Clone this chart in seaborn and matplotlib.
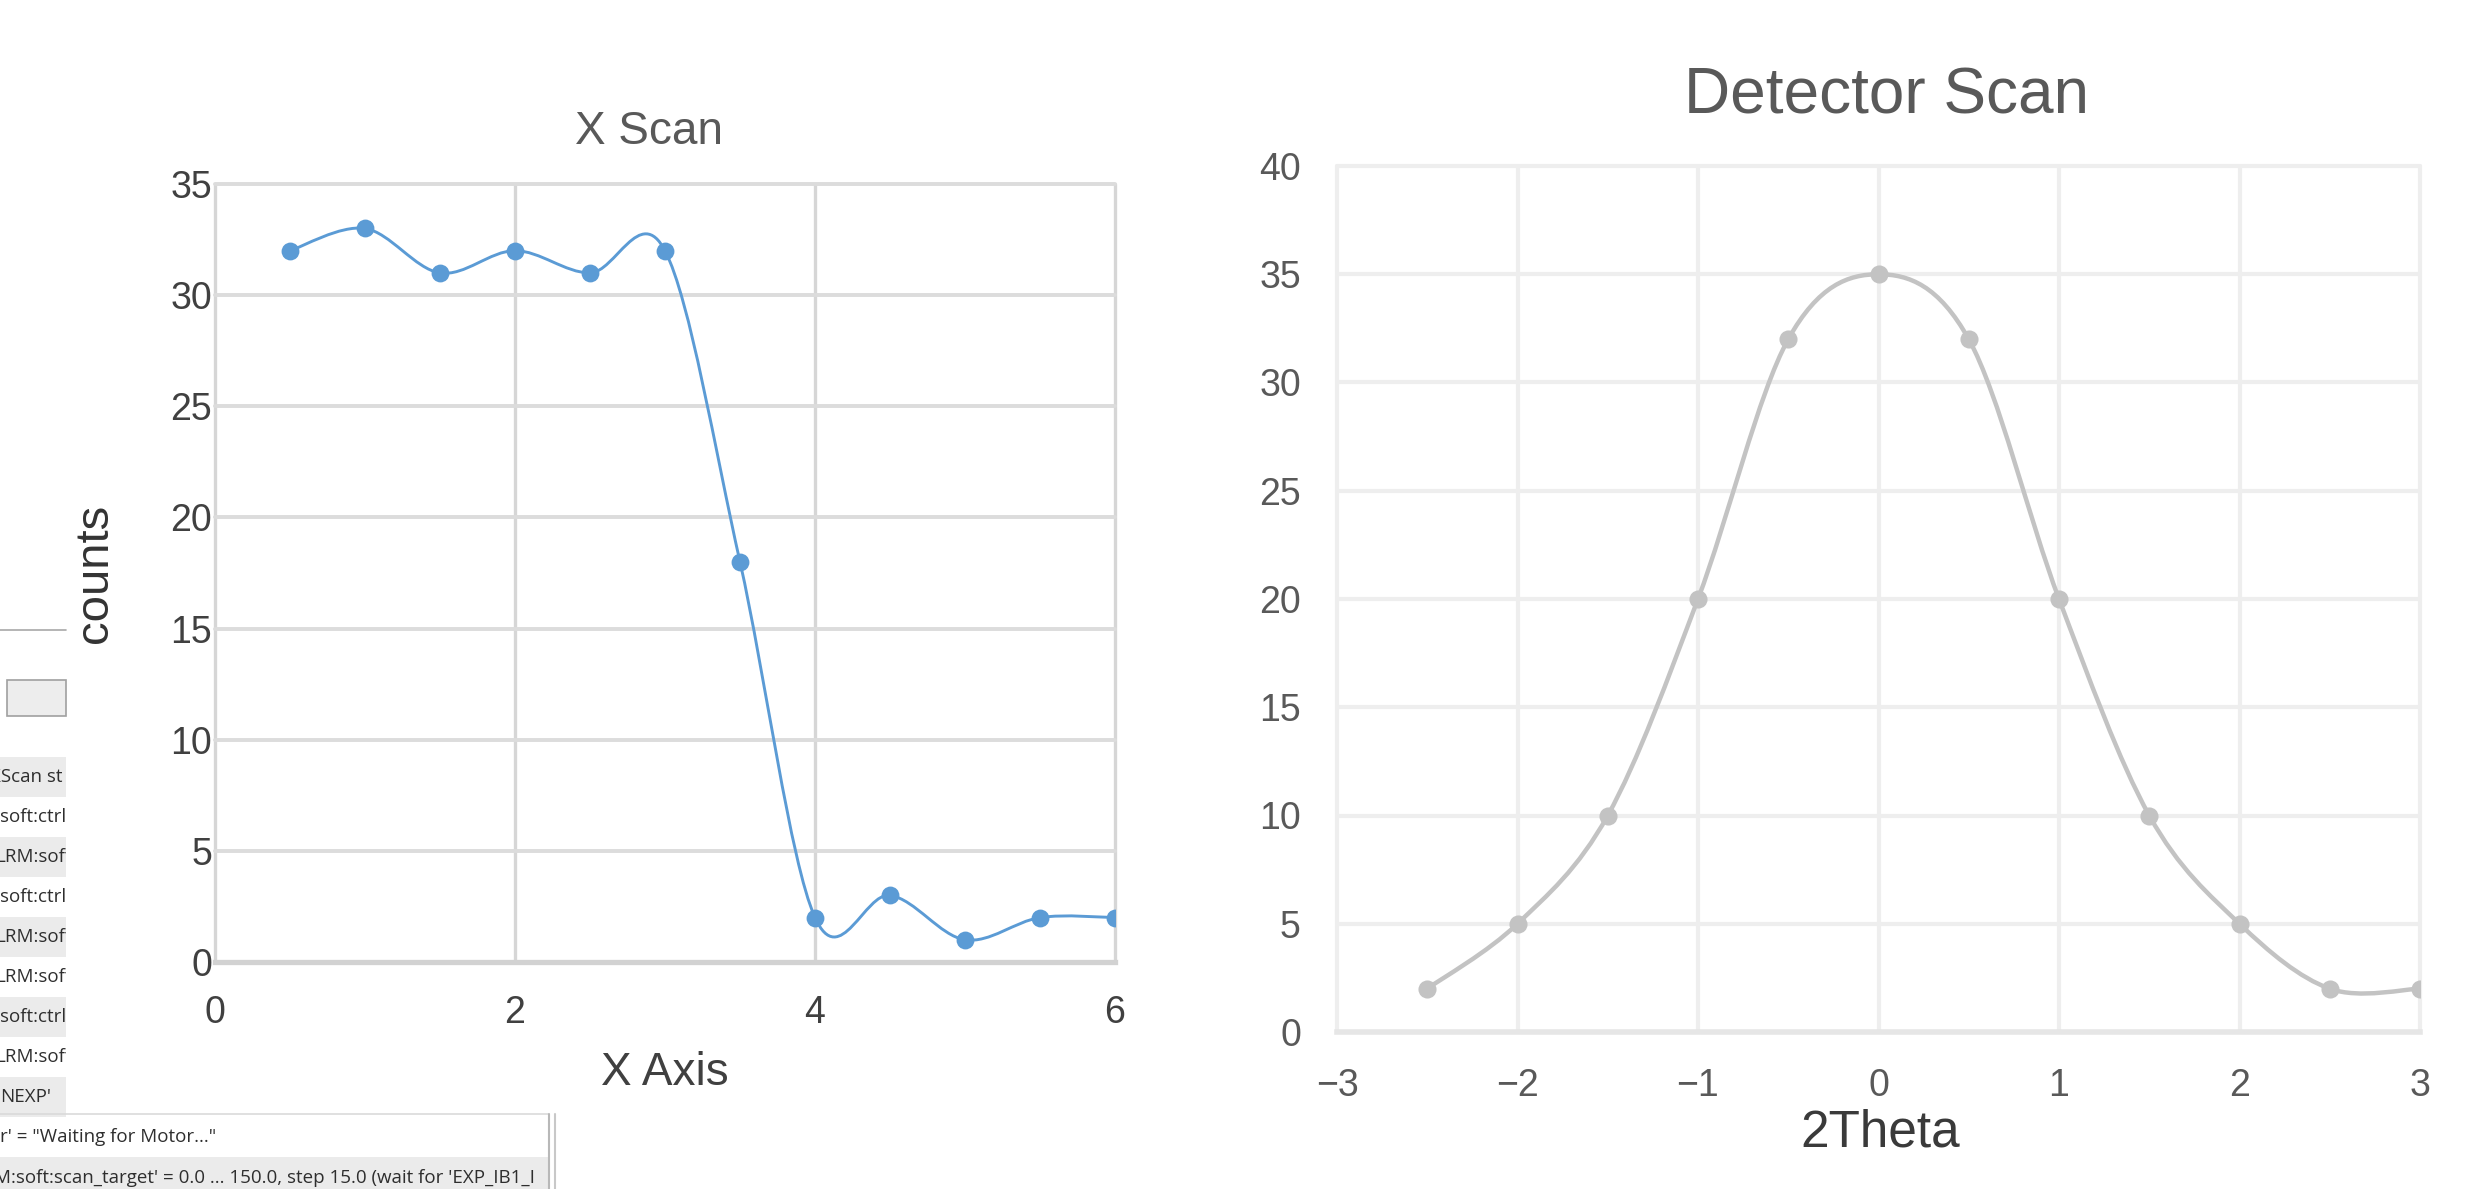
import numpy as np
import matplotlib
matplotlib.use('Agg')
import matplotlib.pyplot as plt
import seaborn as sns
from matplotlib import font_manager
from matplotlib.path import Path
from matplotlib.patches import PathPatch, Rectangle
from matplotlib.lines import Line2D
from matplotlib.transforms import Bbox, TransformedBbox

# X scan data
x_pos = [0.5, 1.0, 1.5, 2.0, 2.5, 3.0, 3.5, 4.0, 4.5, 5.0, 5.5, 6.0]
x_counts = [32, 33, 31, 32, 31, 32, 18, 2, 3, 1, 2, 2]
x_ticks = [0, 2, 4, 6]
x_yticks = [0, 5, 10, 15, 20, 25, 30, 35]

# detector scan data
theta = [-2.5, -2.0, -1.5, -1.0, -0.5, 0.0, 0.5, 1.0, 1.5, 2.0, 2.5, 3.0]
det_counts = [2, 5, 10, 20, 32, 35, 32, 20, 10, 5, 2, 2]
det_xticks = [-3, -2, -1, 0, 1, 2, 3]
det_yticks = [0, 5, 10, 15, 20, 25, 30, 35, 40]

# bits of the log window behind the charts
log_rows = ["XScan st", "soft:ctrl", "LRM:soft", "soft:ctrl", "LRM:soft",
            "LRM:soft", "soft:ctrl", "LRM:soft", "NEXP'"]
log_bottom = ["r' = \"Waiting for Motor...\"",
              "M:soft:scan_target' = 0.0 ... 150.0, step 15.0 (wait for 'EXP_IB1_I"]

W, H = 2481, 1189


def fx(px):
    return px / W


def fy(py):
    return 1 - py / H


def has_font(name):
    try:
        font_manager.findfont(name, fallback_to_default=False)
        return True
    except Exception:
        return False


narrow = 'Liberation Sans Narrow' if has_font('Liberation Sans Narrow') else 'Liberation Sans'


def smooth_path(xs, ys):
    # excel-style smoothed line: bezier through the points
    p = np.column_stack([xs, ys]).astype(float)
    ext = np.vstack([p[0], p, p[-1]])
    verts = [p[0]]
    codes = [Path.MOVETO]
    for i in range(len(p) - 1):
        p0, p1, p2, p3 = ext[i], ext[i + 1], ext[i + 2], ext[i + 3]
        verts += [p1 + (p2 - p0) / 6, p2 - (p3 - p1) / 6, p2]
        codes += [Path.CURVE4] * 3
    return Path(verts, codes)


sns.set_style('white')
plt.rcParams['font.family'] = ['Liberation Sans', 'DejaVu Sans']

fig = plt.figure(figsize=(W / 100, H / 100), dpi=100)

# ---- log window fragments ----
def rect(x0, y0, x1, y1, **kw):
    fig.add_artist(Rectangle((fx(x0), fy(y1)), fx(x1) - fx(x0), fy(y0) - fy(y1),
                             transform=fig.transFigure, **kw))


def hline(x0, x1, y, color, lw=1.2):
    fig.add_artist(Line2D([fx(x0), fx(x1)], [fy(y), fy(y)], color=color, lw=lw,
                          transform=fig.transFigure))


def clipped_text(x, y, s, x0, x1, y0, y1, **kw):
    t = fig.text(fx(x), fy(y), s, va='center', ha='left', **kw)
    t.set_clip_box(TransformedBbox(Bbox([[fx(x0), fy(y1)], [fx(x1), fy(y0)]]),
                                   fig.transFigure))
    t.set_clip_on(True)


log_font = dict(fontsize=13.5, family=['Open Sans', 'DejaVu Sans'], color='#2E2E2E')

hline(0, 66, 630, '#A8A8A8')
rect(7, 680, 66, 716, facecolor='#EDEDED', edgecolor='#A0A0A0', lw=1.2)

for i, s in enumerate(log_rows):
    yc = 777 + 40 * i
    if i % 2 == 0:
        rect(0, yc - 20, 66, yc + 20, facecolor='#EBEBEB', edgecolor='none')
    clipped_text(-10 if i == 0 else (-5 if s.startswith('L') else 0), yc, s,
                 0, 66, yc - 20, yc + 20, **log_font)

hline(0, 548, 1114, '#DADADA')
rect(0, 1157, 548, 1189, facecolor='#EBEBEB', edgecolor='none')
clipped_text(0, 1137, log_bottom[0], 0, 548, 1115, 1157, **log_font)
clipped_text(-6, 1178, log_bottom[1], 0, 546, 1157, 1189, **log_font)
fig.add_artist(Line2D([fx(549), fx(549)], [fy(1114), 0], color='#B8B8B8', lw=1.5,
                      transform=fig.transFigure))
fig.add_artist(Line2D([fx(555), fx(555)], [fy(1114), 0], color='#C8C8C8', lw=1.5,
                      transform=fig.transFigure))

# ---- X Scan ----
blue = '#5B9BD5'
ax1 = fig.add_axes([fx(215), fy(962), fx(1115) - fx(215), fy(184) - fy(962)])
ax1.set_xlim(0, 6)
ax1.set_ylim(0, 35)
ax1.set_xticks(x_ticks)
ax1.set_yticks(x_yticks)
ax1.set_axisbelow(True)
ax1.yaxis.grid(True, color='#DCDCDC', lw=2.8)
ax1.xaxis.grid(True, color='#D6D6D6', lw=2.4)
for ln in ax1.get_xgridlines() + ax1.get_ygridlines():
    ln.set_clip_on(False)
for sp in ['top', 'right', 'left']:
    ax1.spines[sp].set_visible(False)
ax1.spines['bottom'].set_color('#D2D2D2')
ax1.spines['bottom'].set_linewidth(3.8)
ax1.tick_params(length=0, labelsize=27, labelcolor='#404040')
ax1.tick_params(axis='x', pad=24)
ax1.tick_params(axis='y', pad=2)
for lab in ax1.get_xticklabels() + ax1.get_yticklabels():
    lab.set_family([narrow, 'DejaVu Sans'])

ax1.add_patch(PathPatch(smooth_path(x_pos, x_counts), facecolor='none',
                        edgecolor=blue, lw=2.1, zorder=2))
sns.scatterplot(x=x_pos, y=x_counts, ax=ax1, color=blue, s=165, linewidth=0, zorder=3)
ax1.set_xlabel('')
ax1.set_ylabel('')

fig.text(fx(649), fy(132), 'X Scan', ha='center', va='center', fontsize=33,
         color='#595959', family=[narrow, 'DejaVu Sans'])
fig.text(fx(95), fy(573), 'counts', ha='center', va='center', rotation=90,
         fontsize=34, color='#333333')
fig.text(fx(665), fy(1073), 'X Axis', ha='center', va='center', fontsize=33,
         color='#404040', family=[narrow, 'DejaVu Sans'])

# ---- Detector Scan ----
grey = '#C3C3C3'
ax2 = fig.add_axes([fx(1337), fy(1032), fx(2420) - fx(1337), fy(166) - fy(1032)])
ax2.set_xlim(-3, 3)
ax2.set_ylim(0, 40)
ax2.set_xticks(det_xticks)
ax2.set_yticks(det_yticks)
ax2.set_axisbelow(True)
ax2.grid(True, color='#EEEEEE', lw=3.0)
for ln in ax2.get_xgridlines() + ax2.get_ygridlines():
    ln.set_clip_on(False)
for sp in ['top', 'right', 'left']:
    ax2.spines[sp].set_visible(False)
ax2.spines['bottom'].set_color('#E6E6E6')
ax2.spines['bottom'].set_linewidth(4)
ax2.tick_params(length=0, labelsize=27, labelcolor='#595959', pad=26)
for lab in ax2.get_xticklabels() + ax2.get_yticklabels():
    lab.set_family([narrow, 'DejaVu Sans'])

ax2.add_patch(PathPatch(smooth_path(theta, det_counts), facecolor='none',
                        edgecolor=grey, lw=3.2, zorder=2))
sns.scatterplot(x=theta, y=det_counts, ax=ax2, color=grey, s=170, linewidth=0, zorder=3)
ax2.set_xlabel('')
ax2.set_ylabel('')

fig.text(fx(1886), fy(96), 'Detector Scan', ha='center', va='center', fontsize=46,
         color='#595959')
fig.text(fx(1880), fy(1133), '2Theta', ha='center', va='center', fontsize=37,
         color='#3A3A3A')

fig.savefig('out.png', dpi=100)
